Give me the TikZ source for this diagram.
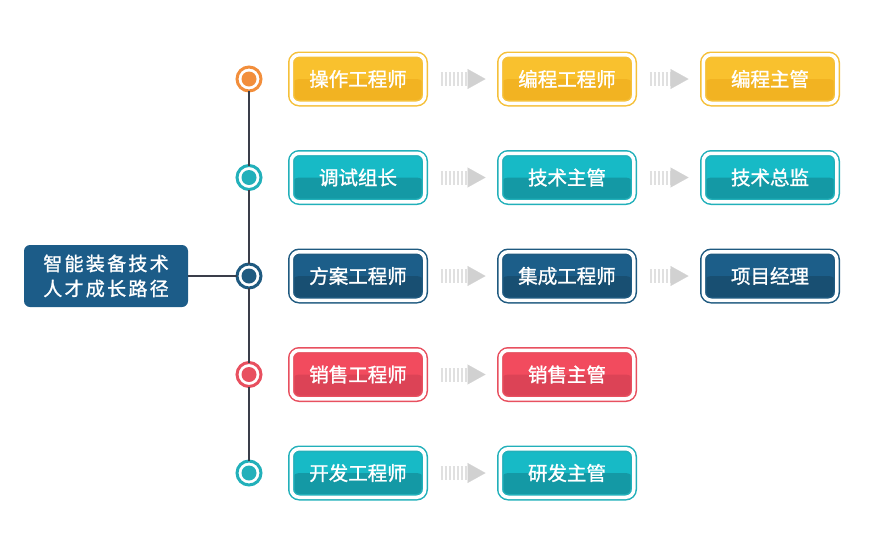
\documentclass[tikz,border=0pt]{standalone}
\usepackage{fontspec}
\setmainfont{Noto Sans CJK SC}
\newfontfamily\stagefont{Noto Sans CJK SC}[FakeBold=1.2]
\newfontfamily\headfont{Noto Sans CJK SC}[LetterSpace=12, FakeBold=1.2]
\usepackage{tikz}
\usetikzlibrary{positioning,arrows.meta}

\definecolor{yltop}{HTML}{F9C12E}
\definecolor{yllow}{HTML}{F2B322}
\definecolor{ylline}{HTML}{F5C03A}
\definecolor{tltop}{HTML}{17BAC6}
\definecolor{tllow}{HTML}{1499A5}
\definecolor{tlline}{HTML}{22B0BA}
\definecolor{bltop}{HTML}{1C5E89}
\definecolor{bllow}{HTML}{184F72}
\definecolor{blline}{HTML}{1F5A80}
\definecolor{rdtop}{HTML}{F24B5E}
\definecolor{rdlow}{HTML}{DC4356}
\definecolor{rdline}{HTML}{E8505F}
\definecolor{dotor}{HTML}{F28E3B}
\definecolor{spinec}{HTML}{3A3E4A}
\definecolor{headc}{HTML}{1C5C88}

\tikzset{
  stage/.style={rounded corners=8pt, minimum width=133.5pt, minimum height=48.5pt,
    inner sep=0pt, outer sep=0pt, text=white, font=\stagefont\fontsize{19.5}{21}\selectfont,
    fill=#1top, draw=#1line, line width=1.5pt, double=white, double distance=3.5pt,
    path picture={\fill[#1low] (path picture bounding box.west) rectangle (path picture bounding box.south east);}},
  dot/.style={circle, minimum size=24pt, inner sep=0pt, outer sep=0pt, line width=3pt,
    draw=#1, fill=white,
    path picture={\fill[#1] (path picture bounding box.center) circle (7.5pt);}},
  headbox/.style={rounded corners=6pt, minimum width=164pt, minimum height=62pt,
    inner sep=0pt, outer sep=0pt, fill=headc, text=white, align=center,
    font=\headfont\fontsize{19}{25}\selectfont},
  spine/.style={draw=spinec, line width=2.5pt},
  flow/.style={draw=black!12, line width=14pt, dash pattern=on 2.5pt off 1.5pt,
    -{Triangle[length=18pt, width=20pt, line width=0.1pt, color=black!18]},
    shorten <=15.75pt, shorten >=14.75pt}
}

\begin{document}
\begin{tikzpicture}[x=1pt, y=-1pt]
  \useasboundingbox (0,0) rectangle (892,555);

  \node[dot=dotor] (d1) at (249,79) {};
  \node[dot=tlline, below=74.5pt of d1] (d2) {};
  \node[dot=blline, below=74.5pt of d2] (d3) {};
  \node[dot=rdline, below=74.5pt of d3] (d4) {};
  \node[dot=tlline, below=74.5pt of d4] (d5) {};

  \node[stage=yl, right=30.25pt of d1] (caozuo) {操作工程师};
  \node[stage=yl, right=75.5pt of caozuo] (biancheng) {编程工程师};
  \node[stage=yl, right=69.5pt of biancheng] (bczg) {编程主管};

  \node[stage=tl, right=30.25pt of d2] (tiaoshi) {调试组长};
  \node[stage=tl, right=75.5pt of tiaoshi] (jszg) {技术主管};
  \node[stage=tl, right=69.5pt of jszg] (jszj) {技术总监};

  \node[stage=bl, right=30.25pt of d3] (fangan) {方案工程师};
  \node[stage=bl, right=75.5pt of fangan] (jicheng) {集成工程师};
  \node[stage=bl, right=69.5pt of jicheng] (xmjl) {项目经理};

  \node[stage=rd, right=30.25pt of d4] (xiaoshou) {销售工程师};
  \node[stage=rd, right=75.5pt of xiaoshou] (xszg) {销售主管};

  \node[stage=tl, right=30.25pt of d5] (kaifa) {开发工程师};
  \node[stage=tl, right=75.5pt of kaifa] (yfzg) {研发主管};

  \node[headbox] (lujing) at (106,276) {智能装备技术\\人才成长路径};

  \draw[spine] (d1) -- (d2) -- (d3) -- (d4) -- (d5);
  \draw[spine] (lujing) -- (d3);

  \draw[flow] (caozuo) -- (biancheng);
  \draw[flow] (biancheng) -- (bczg);
  \draw[flow] (tiaoshi) -- (jszg);
  \draw[flow] (jszg) -- (jszj);
  \draw[flow] (fangan) -- (jicheng);
  \draw[flow] (jicheng) -- (xmjl);
  \draw[flow] (xiaoshou) -- (xszg);
  \draw[flow] (kaifa) -- (yfzg);
\end{tikzpicture}
\end{document}
